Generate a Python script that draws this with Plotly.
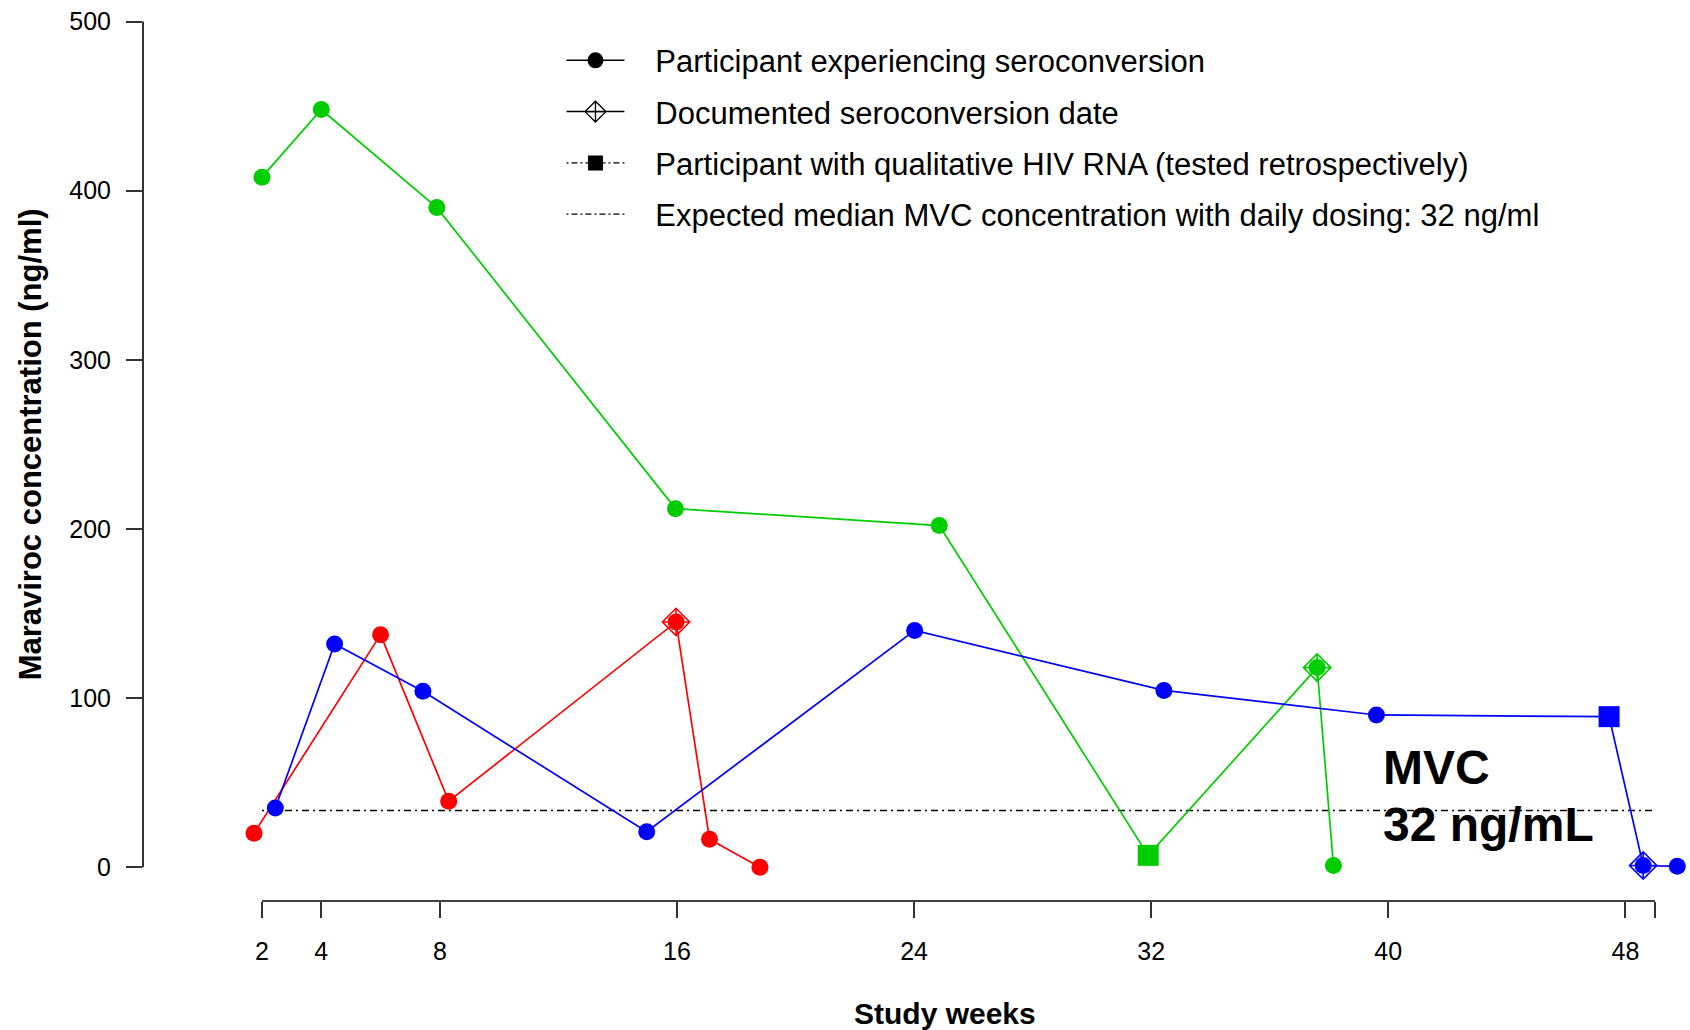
import plotly.graph_objects as go

# ---------------- data ----------------
green_weeks = [2.0, 4.0, 7.9, 15.95, 24.85, 31.9, 37.6, 38.15]
green_conc = [408, 448, 390, 212, 202, 7, 118, 1]
green_kind = ["c", "c", "c", "c", "c", "s", "d", "c"]

red_weeks = [1.73, 6.0, 8.3, 15.97, 17.1, 18.8]
red_conc = [20, 137.5, 39, 145, 16.5, 0]
red_kind = ["c", "c", "c", "d", "c", "c"]

blue_weeks = [2.45, 4.45, 7.43, 14.98, 24.02, 32.43, 39.6, 47.45, 48.6, 49.75]
blue_conc = [35, 132, 104, 21, 140, 104.5, 90, 89, 1, 0.5]
blue_kind = ["c", "c", "c", "c", "c", "c", "c", "s", "d", "c"]

mvc_level = 33.5
mvc_span = [2, 49]

x_ticks = [2, 4, 8, 16, 24, 32, 40, 48, 49]
x_ticktext = ["2", "4", "8", "16", "24", "32", "40", "48", ""]
y_ticks = [0, 100, 200, 300, 400, 500]

legend_labels = [
    "Participant experiencing seroconversion",
    "Documented seroconversion date",
    "Participant with qualitative HIV RNA (tested retrospectively)",
    "Expected median MVC concentration with daily dosing: 32 ng/ml",
]

# ---------------- styling ----------------
FONT = "Liberation Sans, Arial, sans-serif"
series = [
    (green_weeks, green_conc, green_kind, "#00CD00"),
    (red_weeks, red_conc, red_kind, "#FF0000"),
    (blue_weeks, blue_conc, blue_kind, "#0000FF"),
]

fig = go.Figure()

# reference line (dash-dot)
fig.add_trace(go.Scatter(
    x=mvc_span, y=[mvc_level, mvc_level], mode="lines",
    line=dict(color="black", width=1.3, dash="2px,4px,7px,4px"),
    showlegend=False, hoverinfo="skip"))

for wk, conc, kind, col in series:
    symbols = ["square" if k == "s" else "circle" for k in kind]
    sizes = [21 if k == "s" else 17 for k in kind]
    fig.add_trace(go.Scatter(
        x=wk, y=conc, mode="lines+markers",
        line=dict(color=col, width=1.7),
        marker=dict(color=col, symbol=symbols, size=sizes, opacity=1,
                    line=dict(width=0)),
        showlegend=False, cliponaxis=False))
    dx = [w for w, k in zip(wk, kind) if k == "d"]
    dy = [c for c, k in zip(conc, kind) if k == "d"]
    fig.add_trace(go.Scatter(
        x=dx, y=dy, mode="markers",
        marker=dict(color=col, symbol="diamond-cross-open", size=21,
                    line=dict(color=col, width=1.6)),
        showlegend=False, cliponaxis=False))

# legend entries (black keys)
pad = "\u00a0\u00a0\u00a0"
legend_specs = [
    dict(mode="lines+markers", line=dict(color="black", width=1.5),
         marker=dict(symbol="circle", size=17, color="black")),
    dict(mode="lines+markers", line=dict(color="black", width=1.5),
         marker=dict(symbol="diamond-cross-open", size=16, color="black",
                     line=dict(color="black", width=1.3))),
    dict(mode="lines+markers", line=dict(color="black", width=1.3, dash="2px,3px,6px,3px")),
    dict(mode="lines", line=dict(color="black", width=1.3, dash="2px,3px,6px,3px")),
]
legend_specs[2]["marker"] = dict(symbol="square", size=15, color="black")
for i, (lab, spec) in enumerate(zip(legend_labels, legend_specs)):
    fig.add_trace(go.Scatter(x=[None], y=[None], name=pad + lab,
                             legendgroup=f"g{i}", legendrank=i + 1, **spec))

# axis lines (R style: span only first..last tick)
fig.add_shape(type="line", xref="paper", yref="y", x0=0, x1=0,
              y0=y_ticks[0], y1=y_ticks[-1], line=dict(color="black", width=1.6))
fig.add_shape(type="line", xref="x", yref="paper", x0=x_ticks[0], x1=x_ticks[-1],
              y0=0, y1=0, line=dict(color="black", width=1.6))

annos = [
    dict(text="<b>Maraviroc concentration (ng/ml)</b>", xref="paper", yref="y",
         x=0, y=250, xshift=-113, textangle=-90, showarrow=False,
         xanchor="center", yanchor="middle", font=dict(size=31, family=FONT, color="black")),
    dict(text="<b>Study weeks</b>", xref="paper", yref="paper",
         x=0.5184, y=0, yshift=-112, showarrow=False,
         xanchor="center", yanchor="middle", font=dict(size=30, family=FONT, color="black")),
    dict(text="<b>MVC</b>", xref="x", yref="y", x=39.75, y=59, showarrow=False,
         xanchor="left", yanchor="middle", font=dict(size=48, family=FONT, color="black")),
    dict(text="<b>32 ng/mL</b>", xref="x", yref="y", x=39.75, y=25, showarrow=False,
         xanchor="left", yanchor="middle", font=dict(size=48, family=FONT, color="black")),
]

fig.update_layout(
    width=1690, height=1030,
    margin=dict(l=143, r=0, t=5, b=129),
    paper_bgcolor="white", plot_bgcolor="white",
    font=dict(family=FONT, color="black"),
    annotations=annos,
    legend=dict(x=0.2705, y=0.968, xanchor="left", yanchor="top",
                bgcolor="rgba(0,0,0,0)", borderwidth=0,
                font=dict(size=31, family=FONT, color="black"),
                itemwidth=58, tracegroupgap=8, traceorder="grouped"),
    showlegend=True,
)
fig.update_xaxes(range=[-2.015, 50.18], showgrid=False, zeroline=False, showline=False,
                 tickmode="array", tickvals=x_ticks, ticktext=x_ticktext,
                 ticks="outside", ticklen=16, tickwidth=1.5, tickcolor="#333",
                 tickfont=dict(size=25, family=FONT, color="black"),
                 ticklabelstandoff=12)
fig.update_yaxes(range=[-20, 509.8], showgrid=False, zeroline=False, showline=False,
                 tickmode="array", tickvals=y_ticks,
                 ticks="outside", ticklen=16, tickwidth=1.5, tickcolor="#333",
                 tickfont=dict(size=25, family=FONT, color="black"),
                 ticklabelstandoff=10)

fig.write_html("out.html", config={"displayModeBar": False},
               post_script="document.body.style.margin='0';document.body.style.padding='0';")
